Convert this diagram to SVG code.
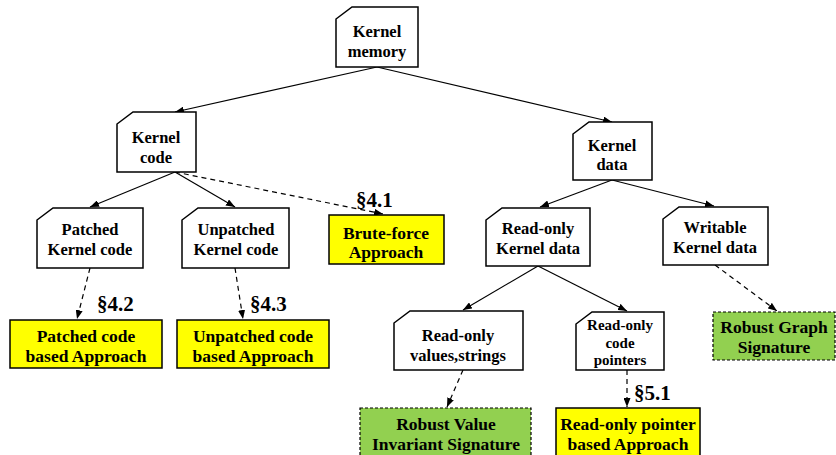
<svg xmlns="http://www.w3.org/2000/svg" width="836" height="455" viewBox="0 0 836 455">
  <style>
    .node { fill: #ffffff; stroke: #000000; stroke-width: 1.5; }
    .yellow { fill: #ffff00; stroke: #000000; stroke-width: 1.5; }
    .green { fill: #92d050; stroke: #000000; stroke-width: 1.2; stroke-dasharray: 3 2; }
    .lbl { font-family: "Liberation Serif", "DejaVu Serif", serif; font-weight: bold; font-size: 16.5px; fill: #000000; text-anchor: middle; }
    .big { font-size: 17.5px; }
    .tight { font-size: 15px; }
    .sec { font-family: "Liberation Serif", "DejaVu Serif", serif; font-weight: bold; font-size: 21px; fill: #000000; }
    .edge { stroke: #000000; stroke-width: 1.2; fill: none; marker-end: url(#arrow); }
    .dash { stroke-dasharray: 5 4; }
  </style>
  <defs>
    <marker id="arrow" markerWidth="9" markerHeight="7" refX="9" refY="3.5" orient="auto" markerUnits="userSpaceOnUse">
      <path d="M0,0 L9,3.5 L0,7 Z" fill="#000000"/>
    </marker>
  </defs>

  <g id="connectors">
    <line class="edge" x1="377" y1="67" x2="175" y2="112"/>
    <line class="edge" x1="377" y1="67" x2="612" y2="122"/>
    <line class="edge" x1="175" y1="172" x2="90" y2="207"/>
    <line class="edge" x1="175" y1="172" x2="235" y2="207"/>
    <line class="edge dash" x1="175" y1="172" x2="383" y2="214"/>
    <line class="edge" x1="612" y1="180" x2="540" y2="207"/>
    <line class="edge" x1="612" y1="180" x2="714" y2="206"/>
    <line class="edge" x1="538" y1="266" x2="463" y2="310"/>
    <line class="edge" x1="538" y1="266" x2="627" y2="311"/>
    <line class="edge dash" x1="90" y1="268" x2="77" y2="319"/>
    <line class="edge dash" x1="235" y1="268" x2="243" y2="319"/>
    <line class="edge dash" x1="715" y1="265" x2="777" y2="311"/>
    <line class="edge dash" x1="463" y1="370" x2="447" y2="407"/>
    <line class="edge dash" x1="627" y1="370" x2="627" y2="407"/>
  </g>

  <g id="sec41"><text class="sec" x="356" y="207">§4.1</text></g>
  <g id="sec42"><text class="sec" x="97" y="311">§4.2</text></g>
  <g id="sec43"><text class="sec" x="250" y="311">§4.3</text></g>
  <g id="sec51"><text class="sec" x="634" y="400">§5.1</text></g>

  <g id="kernel-memory">
    <path class="node" d="M336,19 L352,7 L418,7 L418,67 L336,67 Z"/>
    <text class="lbl" x="377" y="37">Kernel</text>
    <text class="lbl" x="377" y="57">memory</text>
  </g>

  <g id="kernel-code">
    <path class="node" d="M117,124 L133,112 L196,112 L196,172 L117,172 Z"/>
    <text class="lbl" x="156" y="143">Kernel</text>
    <text class="lbl" x="156" y="163">code</text>
  </g>

  <g id="kernel-data">
    <path class="node" d="M573,134 L589,122 L652,122 L652,180 L573,180 Z"/>
    <text class="lbl" x="612" y="151">Kernel</text>
    <text class="lbl" x="612" y="170">data</text>
  </g>

  <g id="patched-kernel-code">
    <path class="node" d="M37,220 L53,208 L143,208 L143,268 L37,268 Z"/>
    <text class="lbl" x="90" y="235">Patched</text>
    <text class="lbl" x="90" y="255">Kernel code</text>
  </g>

  <g id="unpatched-kernel-code">
    <path class="node" d="M182,220 L198,208 L289,208 L289,268 L182,268 Z"/>
    <text class="lbl" x="236" y="235">Unpatched</text>
    <text class="lbl" x="236" y="255">Kernel code</text>
  </g>

  <g id="brute-force">
    <rect class="yellow" x="329" y="215" width="115" height="49"/>
    <text class="lbl big" x="386" y="239">Brute-force</text>
    <text class="lbl big" x="386" y="258">Approach</text>
  </g>

  <g id="readonly-kernel-data">
    <path class="node" d="M486,220 L502,208 L590,208 L590,266 L486,266 Z"/>
    <text class="lbl" x="538" y="234">Read-only</text>
    <text class="lbl" x="538" y="254">Kernel data</text>
  </g>

  <g id="writable-kernel-data">
    <path class="node" d="M663,219 L679,207 L768,207 L768,265 L663,265 Z"/>
    <text class="lbl" x="715" y="233">Writable</text>
    <text class="lbl" x="715" y="253">Kernel data</text>
  </g>

  <g id="patched-approach">
    <rect class="yellow" x="10" y="320" width="152" height="48"/>
    <text class="lbl big" x="86" y="342">Patched code</text>
    <text class="lbl big" x="86" y="362">based Approach</text>
  </g>

  <g id="unpatched-approach">
    <rect class="yellow" x="177" y="320" width="152" height="48"/>
    <text class="lbl big" x="253" y="342">Unpatched code</text>
    <text class="lbl big" x="253" y="362">based Approach</text>
  </g>

  <g id="readonly-values">
    <path class="node" d="M394,323 L410,311 L523,311 L523,370 L394,370 Z"/>
    <text class="lbl" x="458" y="341">Read-only</text>
    <text class="lbl" x="458" y="361">values,strings</text>
  </g>

  <g id="readonly-pointers">
    <path class="node" d="M576,324 L592,312 L664,312 L664,370 L576,370 Z"/>
    <text class="lbl tight" x="620" y="330">Read-only</text>
    <text class="lbl tight" x="620" y="347.5">code</text>
    <text class="lbl tight" x="620" y="365">pointers</text>
  </g>

  <g id="robust-value">
    <rect class="green" x="360" y="408" width="171" height="50"/>
    <text class="lbl big" x="446" y="430">Robust Value</text>
    <text class="lbl big" x="446" y="450">Invariant  Signature</text>
  </g>

  <g id="pointer-approach">
    <rect class="yellow" x="556" y="408" width="144" height="50"/>
    <text class="lbl big" x="628" y="430">Read-only pointer</text>
    <text class="lbl big" x="628" y="450">based Approach</text>
  </g>

  <g id="robust-graph">
    <rect class="green" x="713" y="312" width="122" height="48"/>
    <text class="lbl big" x="774" y="333">Robust Graph</text>
    <text class="lbl big" x="774" y="353">Signature</text>
  </g>
</svg>
